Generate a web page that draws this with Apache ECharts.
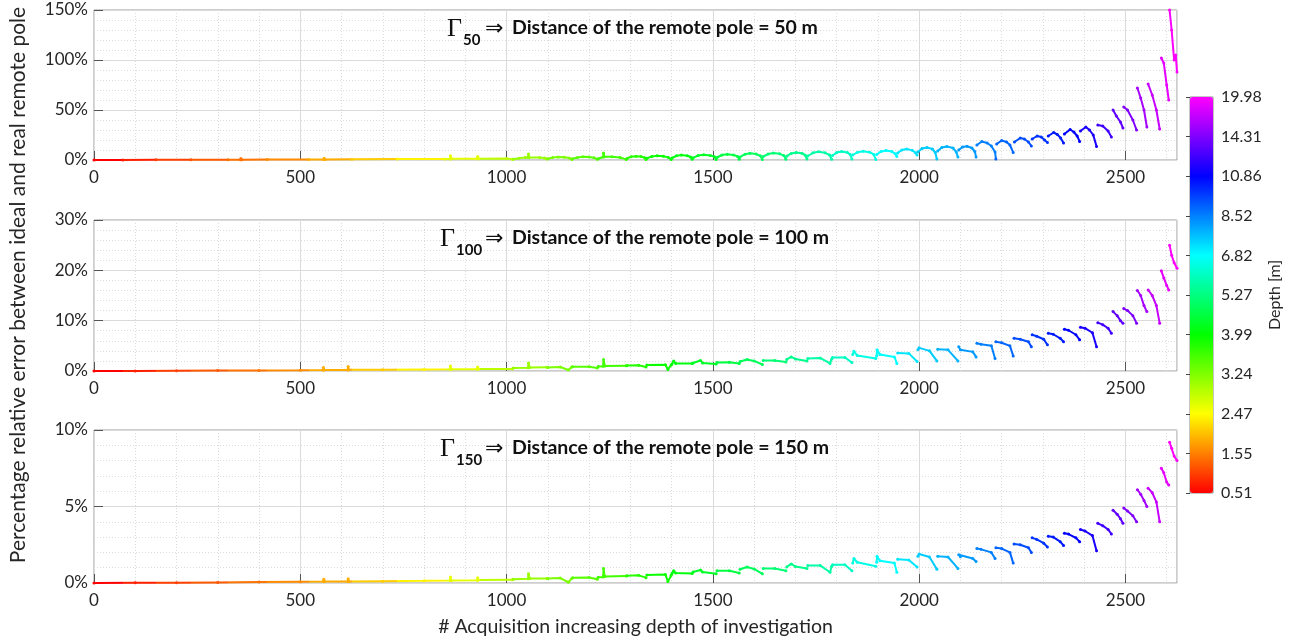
<!DOCTYPE html>
<html>
<head>
<meta charset="utf-8">
<script src="https://cdn.jsdelivr.net/npm/echarts@6/dist/echarts.min.js"></script>
<style>
  html, body { margin: 0; background: #fff; }
  #chart { width: 1294px; height: 643px; }
</style>
</head>
<body>
<div id="chart"></div>
<script>
// colour bar labels (depth, m) – evenly spaced on the bar
const depthTicks = [0.51, 1.55, 2.47, 3.24, 3.99, 5.27, 6.82, 8.52, 10.86, 14.31, 19.98];

// acquisition index where each depth level starts, and its depth
const levelStart = [0, 70, 150, 235, 325, 420, 520, 625, 735, 850, 935, 1016, 1100, 1160, 1222, 1292, 1340,
  1401, 1452, 1510, 1566, 1622, 1679, 1730, 1790, 1839, 1897, 1948, 1997, 2045, 2096, 2140, 2186, 2230,
  2273, 2312, 2351, 2390, 2431, 2468, 2495, 2528, 2554, 2586, 2606];
const levelDepth = [0.51, 0.77, 1.03, 1.24, 1.45, 1.64, 1.87, 2.10, 2.38, 2.62, 2.86, 3.09, 3.28, 3.47, 3.62,
  3.77, 3.92, 4.12, 4.37, 4.63, 4.88, 5.14, 5.43, 5.74, 6.12, 6.51, 6.82, 7.16, 7.50, 7.84, 8.18, 8.52, 8.99,
  9.46, 9.92, 10.39, 10.86, 11.55, 12.59, 13.45, 14.31, 16.01, 17.43, 18.85, 19.98];
const lastAcquisition = 2625;

// percentage error, [acquisition, %], one list per measured level group
const err50 = [
  [[0, 0.0], [70, 0.1], [150, 0.15], [235, 0.2], [325, 0.3], [355, 0.35], [356, 1.4], [358, 0.35], [420, 0.4],
   [520, 0.5], [557, 0.6], [558, 1.8], [560, 0.6], [625, 0.7], [735, 0.9], [850, 1.1], [863, 1.1], [864, 4.3],
   [866, 1.2], [929, 1.3], [930, 3.6], [932, 1.3], [1000, 1.4], [1014, 0.8]],
  [[1016, 0.8], [1030, 1.8], [1045, 2.4], [1052, 2.5], [1053, 6.0], [1055, 2.6], [1080, 2.6], [1092, 2.0], [1098, 1.0]],
  [[1100, 1.2], [1112, 2.5], [1125, 3.0], [1140, 2.7], [1152, 2.0], [1158, 0.6]],
  [[1160, 1.2], [1172, 2.6], [1185, 3.2], [1200, 3.0], [1212, 2.2], [1220, 0.8]],
  [[1222, 1.3], [1234, 3.0], [1235, 7.0], [1237, 3.2], [1255, 3.3], [1275, 2.6], [1290, 0.6]],
  [[1292, 1.6], [1302, 3.2], [1314, 3.8], [1326, 3.4], [1334, 2.4], [1338, 0.5]],
  [[1340, 1.8], [1352, 3.6], [1365, 4.2], [1380, 3.8], [1392, 2.6], [1399, 0.6]],
  [[1401, 2.0], [1412, 4.2], [1424, 5.0], [1438, 4.3], [1446, 3.0], [1450, 0.8]],
  [[1452, 2.2], [1464, 4.4], [1478, 5.2], [1494, 4.6], [1504, 3.2], [1508, 0.5]],
  [[1510, 2.5], [1522, 5.0], [1535, 5.8], [1550, 5.1], [1560, 3.5], [1564, 0.8]],
  [[1566, 3.0], [1578, 5.8], [1590, 6.8], [1605, 5.9], [1615, 4.2], [1620, 0.6]],
  [[1622, 3.4], [1634, 6.0], [1647, 7.0], [1662, 6.2], [1672, 4.4], [1677, 0.8]],
  [[1679, 3.8], [1690, 6.6], [1702, 7.6], [1716, 6.8], [1724, 4.8], [1728, 1.0]],
  [[1730, 4.0], [1743, 7.2], [1756, 8.2], [1772, 7.2], [1783, 5.0], [1788, 0.8]],
  [[1790, 4.5], [1800, 7.4], [1812, 8.4], [1826, 7.6], [1833, 5.4], [1837, 1.0]],
  [[1839, 5.0], [1851, 7.8], [1864, 8.8], [1880, 7.8], [1890, 5.6], [1895, 0.5]],
  [[1897, 5.5], [1908, 8.6], [1920, 9.5], [1934, 8.4], [1942, 6.2], [1946, 3.6]],
  [[1948, 7.0], [1958, 10.0], [1970, 11.0], [1984, 9.6], [1991, 7.2], [1995, 5.0]],
  [[1997, 8.0], [2007, 11.6], [2019, 12.6], [2032, 11.0], [2039, 7.5], [2043, 1.0]],
  [[2045, 9.0], [2055, 12.6], [2067, 13.6], [2082, 12.0], [2090, 8.0], [2094, 3.0]],
  [[2096, 10.0], [2105, 13.0], [2116, 13.8], [2128, 12.0], [2135, 8.5], [2138, 3.0]],
  [[2140, 15.0], [2152, 18.5], [2165, 17.0], [2175, 14.0], [2184, 8.0], [2186, 1.0]],
  [[2188, 16.0], [2200, 19.5], [2212, 18.0], [2220, 15.0], [2228, 7.6]],
  [[2231, 18.0], [2245, 22.0], [2255, 21.0], [2265, 18.0], [2272, 14.0]],
  [[2274, 21.0], [2286, 24.0], [2296, 23.0], [2304, 20.0], [2311, 17.6]],
  [[2313, 24.0], [2326, 27.5], [2335, 25.5], [2343, 22.0], [2350, 17.0]],
  [[2352, 26.0], [2366, 30.5], [2375, 28.0], [2383, 24.0], [2389, 18.6]],
  [[2391, 29.0], [2404, 33.0], [2413, 30.0], [2422, 25.0], [2430, 13.6]],
  [[2433, 35.0], [2445, 34.0], [2458, 29.0], [2466, 23.0]],
  [[2470, 50.0], [2478, 44.0], [2488, 38.0], [2494, 32.0]],
  [[2496, 53.0], [2505, 50.0], [2518, 40.0], [2527, 30.0]],
  [[2529, 72.0], [2537, 62.0], [2545, 50.0], [2552, 33.0]],
  [[2555, 76.0], [2565, 65.0], [2575, 50.0], [2583, 31.0]],
  [[2587, 102.0], [2593, 97.0], [2600, 75.0], [2605, 60.0]],
  [[2607, 150.0], [2612, 130.0], [2618, 100.0], [2622, 105.0], [2625, 88.0]]
];

const err100 = [
  [[0, 0.0], [100, 0.02], [200, 0.05], [300, 0.08], [400, 0.12], [500, 0.16], [555, 0.2], [556, 0.7], [558, 0.2],
   [615, 0.22], [616, 0.9], [618, 0.23], [700, 0.27], [800, 0.3], [863, 0.33], [864, 1.0], [866, 0.35],
   [929, 0.37], [930, 0.8], [932, 0.38], [1014, 0.42]],
  [[1016, 0.6], [1052, 0.65], [1053, 1.6], [1056, 0.7], [1098, 0.75]],
  [[1100, 0.7], [1130, 0.8], [1150, 0.2], [1158, 0.8]],
  [[1160, 0.85], [1200, 0.85], [1220, 0.6]],
  [[1222, 0.9], [1234, 0.95], [1235, 2.3], [1238, 1.0], [1290, 1.05]],
  [[1292, 1.1], [1320, 1.15], [1338, 0.8]],
  [[1340, 1.2], [1385, 1.25], [1391, 0.3], [1399, 1.2]],
  [[1401, 1.4], [1405, 2.0], [1410, 1.5], [1450, 1.5]],
  [[1452, 1.6], [1470, 2.1], [1475, 1.6], [1508, 1.4]],
  [[1510, 1.7], [1540, 1.75], [1564, 1.5]],
  [[1566, 1.9], [1583, 2.3], [1600, 2.0], [1620, 1.3]],
  [[1622, 2.1], [1650, 2.1], [1677, 1.8]],
  [[1679, 2.3], [1690, 2.8], [1700, 2.4], [1728, 2.0]],
  [[1730, 2.5], [1760, 2.6], [1784, 1.5], [1788, 2.4]],
  [[1790, 2.7], [1820, 2.7], [1837, 1.7]],
  [[1839, 3.3], [1842, 3.9], [1850, 3.1], [1895, 2.5]],
  [[1897, 3.0], [1898, 4.2], [1905, 3.3], [1940, 2.8], [1946, 1.5]],
  [[1948, 3.6], [1975, 3.5], [1995, 1.9]],
  [[1997, 4.2], [2000, 4.6], [2025, 4.0], [2043, 2.0]],
  [[2045, 4.3], [2070, 4.2], [2094, 2.0]],
  [[2096, 4.8], [2100, 4.2], [2130, 3.8], [2138, 2.8]],
  [[2140, 5.5], [2150, 5.3], [2175, 5.0], [2184, 2.5]],
  [[2186, 5.8], [2200, 5.6], [2220, 5.0], [2228, 3.0]],
  [[2230, 6.5], [2245, 6.3], [2265, 5.8], [2272, 4.8]],
  [[2274, 7.2], [2285, 6.9], [2302, 6.3], [2311, 5.2]],
  [[2313, 7.5], [2325, 7.3], [2342, 6.5], [2350, 5.8]],
  [[2352, 8.3], [2362, 8.1], [2380, 7.2], [2389, 6.2]],
  [[2391, 8.7], [2402, 8.5], [2420, 7.6], [2430, 4.8]],
  [[2433, 9.6], [2445, 9.2], [2458, 8.5], [2466, 7.5]],
  [[2470, 11.8], [2480, 11.0], [2488, 10.0], [2494, 9.5]],
  [[2496, 12.4], [2505, 12.0], [2518, 11.0], [2527, 9.5]],
  [[2529, 16.0], [2537, 15.0], [2545, 13.0], [2552, 11.8]],
  [[2555, 16.1], [2565, 15.0], [2575, 13.0], [2583, 9.5]],
  [[2587, 19.9], [2593, 18.5], [2600, 17.0], [2605, 16.1]],
  [[2607, 25.0], [2612, 23.0], [2618, 21.5], [2625, 20.4]]
];

const err150 = [
  [[0, 0.0], [100, 0.01], [200, 0.02], [300, 0.04], [400, 0.06], [500, 0.08], [556, 0.09], [557, 0.25], [559, 0.09],
   [615, 0.1], [616, 0.28], [618, 0.1], [700, 0.12], [800, 0.14], [863, 0.16], [864, 0.4], [866, 0.17],
   [929, 0.18], [930, 0.35], [932, 0.19], [1014, 0.22]],
  [[1016, 0.25], [1052, 0.28], [1053, 0.6], [1056, 0.3], [1098, 0.3]],
  [[1100, 0.3], [1130, 0.32], [1150, 0.05], [1158, 0.3]],
  [[1160, 0.35], [1200, 0.36], [1220, 0.25]],
  [[1222, 0.38], [1234, 0.4], [1235, 0.95], [1238, 0.42], [1290, 0.45]],
  [[1292, 0.48], [1320, 0.5], [1338, 0.35]],
  [[1340, 0.52], [1385, 0.55], [1391, 0.1], [1399, 0.5]],
  [[1401, 0.62], [1405, 0.8], [1410, 0.65], [1450, 0.62]],
  [[1452, 0.72], [1470, 0.85], [1475, 0.72], [1508, 0.6]],
  [[1510, 0.8], [1540, 0.8], [1564, 0.65]],
  [[1566, 0.9], [1583, 1.05], [1600, 0.92], [1620, 0.6]],
  [[1622, 0.95], [1650, 0.95], [1677, 0.8]],
  [[1679, 1.05], [1690, 1.25], [1700, 1.08], [1728, 0.95]],
  [[1730, 1.15], [1760, 1.15], [1784, 0.7], [1788, 1.1]],
  [[1790, 1.2], [1820, 1.2], [1837, 0.8]],
  [[1839, 1.3], [1842, 1.6], [1850, 1.35], [1895, 1.1]],
  [[1897, 1.35], [1898, 1.75], [1905, 1.45], [1940, 1.3], [1946, 0.7]],
  [[1948, 1.55], [1975, 1.5], [1995, 1.05]],
  [[1997, 1.75], [2000, 1.9], [2025, 1.7], [2043, 0.9]],
  [[2045, 1.75], [2070, 1.7], [2094, 0.95]],
  [[2096, 1.85], [2100, 1.72], [2130, 1.6], [2138, 1.4]],
  [[2140, 2.25], [2150, 2.2], [2175, 2.0], [2184, 1.6]],
  [[2186, 2.3], [2200, 2.25], [2220, 2.0], [2228, 1.3]],
  [[2230, 2.55], [2245, 2.5], [2265, 2.3], [2272, 2.0]],
  [[2274, 2.95], [2285, 2.85], [2302, 2.6], [2311, 2.35]],
  [[2313, 3.05], [2325, 3.0], [2342, 2.7], [2350, 2.45]],
  [[2352, 3.25], [2362, 3.2], [2380, 2.95], [2389, 2.7]],
  [[2391, 3.5], [2402, 3.4], [2420, 3.1], [2430, 2.1]],
  [[2433, 3.9], [2445, 3.75], [2458, 3.5], [2466, 3.2]],
  [[2470, 4.75], [2480, 4.5], [2488, 4.2], [2494, 3.9]],
  [[2496, 4.9], [2505, 4.7], [2518, 4.4], [2527, 4.0]],
  [[2529, 6.1], [2537, 5.8], [2545, 5.4], [2552, 5.0]],
  [[2555, 6.2], [2565, 5.9], [2575, 5.3], [2583, 4.0]],
  [[2587, 7.5], [2593, 7.2], [2600, 6.6], [2605, 6.4]],
  [[2607, 9.2], [2612, 8.8], [2618, 8.3], [2625, 8.0]]
];

const panels = [
  { data: err50, sub: '50', dist: '50 m', max: 150, major: 50, minor: 10 },
  { data: err100, sub: '100', dist: '100 m', max: 30, major: 10, minor: 2 },
  { data: err150, sub: '150', dist: '150 m', max: 10, major: 5, minor: 1 }
];

const FONT = 'Lato, "DejaVu Sans", sans-serif';
const TEXT = '#262626';
const gridTops = [10, 220, 430];
const gridHeights = [150, 151, 153];

// depth -> position on the (evenly spaced) colour bar -> hsv hue
function depthPos(d) {
  for (let i = 0; i < depthTicks.length - 1; i++) {
    if (d <= depthTicks[i + 1]) {
      return i + (d - depthTicks[i]) / (depthTicks[i + 1] - depthTicks[i]);
    }
  }
  return depthTicks.length - 1;
}
function hueColor(h) {
  const c = (n) => {
    const k = (n + h / 60) % 6;
    return Math.round(255 * (1 - Math.max(0, Math.min(k, 4 - k, 1))));
  };
  return 'rgb(' + c(5) + ',' + c(3) + ',' + c(1) + ')';
}
const barColors = depthTicks.map((_, i) => hueColor(30 * i));

const pieces = levelStart.map((s, i) => ({
  gte: s,
  lt: i < levelStart.length - 1 ? levelStart[i + 1] : lastAcquisition + 1,
  color: hueColor(30 * depthPos(levelDepth[i]))
}));

const xAxes = [];
const yAxes = [];
const grids = [];
const series = [];
const titles = [];
const tickStyle = { inside: true, length: 9, lineStyle: { color: '#555' } };
const minorLine = { show: true, lineStyle: { color: '#dcdcdc', type: [1, 2] } };

panels.forEach((p, i) => {
  grids.push({
    left: 94, top: gridTops[i], width: 1083, height: gridHeights[i],
    show: true, borderColor: '#9a9a9a', borderWidth: 1
  });
  // x: labelled bottom axis; top axis only carries the dotted minor grid
  xAxes.push({
    gridIndex: i, type: 'value', position: 'bottom', min: 0, max: lastAcquisition, interval: 500,
    axisLine: { show: false },
    axisTick: tickStyle,
    axisLabel: { color: TEXT, fontSize: 17, fontFamily: FONT, margin: 9, showMaxLabel: false, formatter: (v) => String(v) },
    splitLine: { lineStyle: { color: '#dadada' } },
    name: i === 2 ? '# Acquisition increasing depth of investigation' : '',
    nameLocation: 'middle', nameGap: 34,
    nameTextStyle: { color: TEXT, fontSize: 19.5, fontFamily: FONT }
  });
  xAxes.push({
    gridIndex: i, type: 'value', position: 'top', min: 0, max: lastAcquisition, interval: 100,
    axisLine: { show: false }, axisTick: { show: false }, axisLabel: { show: false }, splitLine: minorLine
  });
  // y: labelled left axis; right axis only carries the dotted minor grid
  yAxes.push({
    gridIndex: i, type: 'value', position: 'left', min: 0, max: p.max, interval: p.major,
    axisLine: { show: false },
    axisTick: tickStyle,
    axisLabel: { color: TEXT, fontSize: 17, fontFamily: FONT, margin: 6, formatter: (v) => v + '%' },
    splitLine: { lineStyle: { color: '#dadada' } }
  });
  yAxes.push({
    gridIndex: i, type: 'value', position: 'right', min: 0, max: p.max, interval: p.minor,
    axisLine: { show: false }, axisTick: { show: false }, axisLabel: { show: false }, splitLine: minorLine
  });

  const pts = [];
  p.data.forEach((seg) => {
    seg.forEach((pt) => pts.push(pt));
    pts.push([seg[seg.length - 1][0] + 0.5, '-']);
  });
  series.push({
    type: 'line', xAxisIndex: 2 * i, yAxisIndex: 2 * i, data: pts,
    connectNulls: false, showSymbol: true, symbol: 'circle', symbolSize: 3,
    lineStyle: { width: 2 }, silent: true, z: 3
  });

  const ty = gridTops[i];
  titles.push({
    text: 'Γ', left: i === 0 ? 447 : 440, top: ty + 6, padding: 0,
    textStyle: { fontFamily: '"Liberation Serif", serif', fontSize: 26, fontWeight: 'normal', color: '#111' }
  });
  titles.push({
    text: p.sub, left: i === 0 ? 463 : 456, top: ty + 23, padding: 0,
    textStyle: { fontFamily: FONT, fontSize: 15, fontWeight: 'bold', color: '#111' }
  });
  titles.push({
    text: '⇒', left: 485, top: ty + 8, padding: 0,
    textStyle: { fontFamily: '"DejaVu Sans", sans-serif', fontSize: 22, fontWeight: 'normal', color: '#111' }
  });
  titles.push({
    text: 'Distance of the remote pole = ' + p.dist, left: 512, top: ty + 8, padding: 0,
    textStyle: { fontFamily: FONT, fontSize: 19.5, fontWeight: 'bold', color: '#111' }
  });
});

// colour bar
grids.push({ left: 1190, top: 97, width: 23, height: 396, show: true, borderColor: '#888', borderWidth: 1 });
xAxes.push({ gridIndex: 3, type: 'value', show: false, min: 0, max: 1 });
yAxes.push({
  gridIndex: 3, type: 'value', position: 'right', min: 0, max: depthTicks.length - 1, interval: 1,
  axisLine: { show: false },
  axisTick: { inside: true, length: 4, lineStyle: { color: '#444' } },
  axisLabel: { color: TEXT, fontSize: 16, fontFamily: FONT, margin: 8, formatter: (v) => depthTicks[Math.round(v)].toFixed(2) },
  splitLine: { show: false },
  name: 'Depth [m]', nameLocation: 'middle', nameGap: 54, nameRotate: 90,
  nameTextStyle: { color: TEXT, fontSize: 16, fontFamily: FONT }
});
series.push({ type: 'scatter', xAxisIndex: 6, yAxisIndex: 6, data: [], silent: true });

const chart = echarts.init(document.getElementById('chart'), null, { renderer: 'canvas' });
chart.setOption({
  animation: false,
  backgroundColor: '#fff',
  title: titles,
  grid: grids,
  xAxis: xAxes,
  yAxis: yAxes,
  visualMap: [
    {
      type: 'piecewise', show: false, dimension: 0, seriesIndex: [0, 1, 2],
      pieces: pieces, outOfRange: { color: '#ff00ff' }
    },
    {
      type: 'continuous', show: true, seriesIndex: 3, min: 0, max: depthTicks.length - 1,
      left: 1190, top: 97, padding: 0, itemWidth: 23, itemHeight: 396,
      calculable: false, text: null, showLabel: false, z: 1,
      inRange: { color: barColors }
    }
  ],
  graphic: [{
    type: 'text', x: 18, y: 285, rotation: Math.PI / 2,
    style: {
      text: 'Percentage relative error between ideal and real remote pole',
      fill: TEXT, font: '21px ' + FONT, textAlign: 'center', textVerticalAlign: 'middle'
    }
  }],
  series: series
});
</script>
</body>
</html>
